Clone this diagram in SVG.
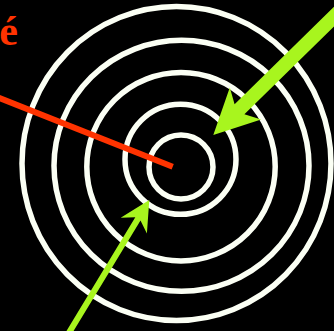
<svg xmlns="http://www.w3.org/2000/svg" width="334" height="331" viewBox="0 0 334 331">
  <style>
    .ring { fill: none; stroke: #fbfff4; stroke-width: 5.5; }
    .red { stroke: #ff3300; stroke-width: 6; stroke-linecap: butt; fill: none; }
    .green { fill: #a8f51e; stroke: none; }
    .lbl { font-family: "Liberation Serif", "Times New Roman", serif; font-weight: bold; font-size: 42px; fill: #ff3300; }
  </style>
  <rect x="0" y="0" width="334" height="331" fill="#000000"/>
  <g id="rings">
    <g id="ring5"><ellipse class="ring" cx="176.5" cy="163.5" rx="154.5" ry="157"/></g>
    <g id="ring4"><ellipse class="ring" cx="181.5" cy="165.8" rx="127.5" ry="125.5"/></g>
    <g id="ring3"><circle class="ring" cx="181" cy="166.7" r="94.2"/></g>
    <g id="ring2"><ellipse class="ring" cx="180.5" cy="159.3" rx="55.5" ry="55"/></g>
    <g id="ring1"><circle class="ring" cx="181" cy="167" r="32"/></g>
  </g>
  <g id="label">
    <text class="lbl" x="18" y="45" text-anchor="end">é</text>
  </g>
  <g id="connectors">
    <line class="red" x1="-2" y1="97.5" x2="172.7" y2="166.7"/>
    <polygon class="green" points="213.3,135 261.1,119.5 244.4,114.3 346.7,14 336.9,4 234.6,104.3 229.8,87.5"/>
    <polygon class="green" points="149.3,200 146.9,233.6 140.5,220.4 69,338.5 63.8,335.4 135.3,217.3 120.7,217.8"/>
  </g>
</svg>
